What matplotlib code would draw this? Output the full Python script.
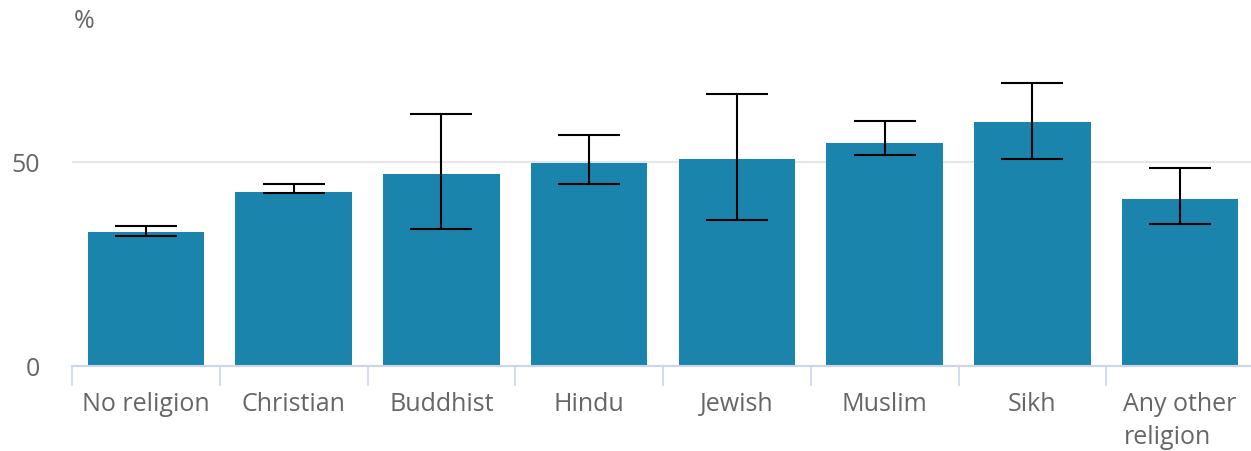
import matplotlib
matplotlib.use("Agg")
import matplotlib.pyplot as plt
import matplotlib.transforms as mtransforms
import numpy as np

categories = ["No religion", "Christian", "Buddhist", "Hindu", "Jewish", "Muslim", "Sikh", "Any other\nreligion"]
values = [32.7, 42.6, 46.9, 49.7, 50.7, 54.6, 59.7, 40.9]
err_low = [31.9, 42.3, 33.6, 44.5, 35.8, 51.6, 50.7, 34.7]
err_high = [34.2, 44.6, 61.6, 56.6, 66.5, 59.9, 69.3, 48.4]
yticks = [0, 50]

plt.rcParams['font.family'] = ['Open Sans', 'DejaVu Sans']

W, H = 1251, 452
fig = plt.figure(figsize=(W / 100, H / 100), dpi=100)
left_px, right_px = 72, 1254
zero_px = 366.7
ppu = 4.08
ytop = 75
top_px = zero_px - ytop * ppu
ax = fig.add_axes([left_px / W, 1 - zero_px / H, (right_px - left_px) / W, (zero_px - top_px) / H])

x = np.arange(len(categories))
vals = np.array(values)
lo = vals - np.array(err_low)
hi = np.array(err_high) - vals

ax.bar(x, vals, width=0.79, color='#1a84ad', zorder=2)
ax.errorbar(x, vals, yerr=[lo, hi], fmt='none', ecolor='black', elinewidth=1.5,
            capsize=22, capthick=1.5, zorder=3)

ax.set_xlim(-0.5, len(categories) - 0.5)
ax.set_ylim(0, ytop)
ax.set_yticks(yticks)
ax.set_yticklabels([str(t) for t in yticks])
ax.yaxis.grid(True, color='#e6e6e6', linewidth=1.5, zorder=0)
ax.set_axisbelow(True)

ax.set_xticks(x)
ax.set_xticklabels([])
ax.set_xticks(np.arange(-0.5, len(categories) + 0.5, 1), minor=True)
ax.tick_params(axis='x', which='major', length=0)
ax.tick_params(axis='x', which='minor', length=14.4, width=1.2, color='#ccd6eb', direction='out')
ax.tick_params(axis='y', length=0, pad=23, labelsize=18, labelcolor='#666666')

# category labels: each line on its own baseline, lines left-aligned within a centred block
renderer = fig.canvas.get_renderer()
blend = mtransforms.blended_transform_factory(ax.transData, ax.transAxes)
first_base_pt = 44 * 72 / 100
line_step_pt = 33 * 72 / 100
for xi, label in zip(x, categories):
    lines = label.split('\n')
    texts = []
    for li, line in enumerate(lines):
        tr = mtransforms.offset_copy(blend, fig=fig, x=0, y=-(first_base_pt + li * line_step_pt), units='points')
        t = ax.text(xi, 0, line, transform=tr, ha='center', va='baseline', fontsize=18,
                    color='#666666', clip_on=False)
        texts.append((t, li))
    if len(lines) > 1:
        widths = [t.get_window_extent(renderer).width for t, _ in texts]
        maxw = max(widths)
        for (t, li), w in zip(texts, widths):
            shift_pt = -(maxw - w) / 2 * 72 / fig.dpi
            tr = mtransforms.offset_copy(blend, fig=fig, x=shift_pt,
                                         y=-(first_base_pt + li * line_step_pt), units='points')
            t.set_transform(tr)

for s in ['top', 'right', 'left']:
    ax.spines[s].set_visible(False)
ax.spines['bottom'].set_color('#ccd6eb')
ax.spines['bottom'].set_linewidth(1.5)

fig.text(74 / W, 1 - 21 / H, '%', fontsize=18, color='#666666', va='center', ha='left')

fig.savefig('out.png', dpi=100)
